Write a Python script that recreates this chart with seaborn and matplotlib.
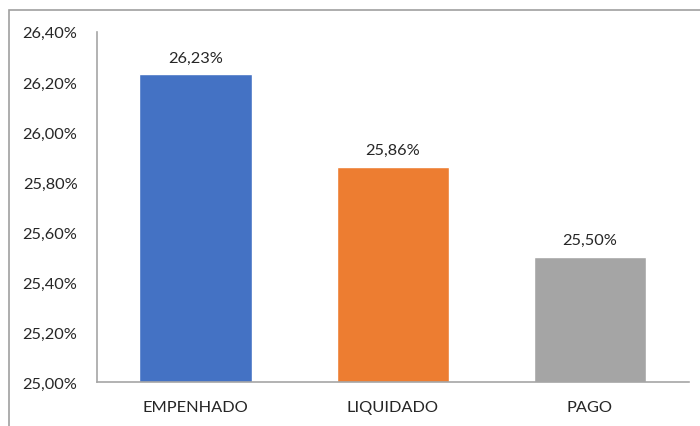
import matplotlib
matplotlib.use('Agg')
import matplotlib.pyplot as plt
from matplotlib.patches import Rectangle
import seaborn as sns
import pandas as pd

categories = ['EMPENHADO', 'LIQUIDADO', 'PAGO']
values = [26.23, 25.86, 25.50]
colors = ['#4472C4', '#ED7D31', '#A5A5A5']
y_ticks = [25.00, 25.20, 25.40, 25.60, 25.80, 26.00, 26.20, 26.40]

sns.set_theme(style="white")
plt.rcParams['font.family'] = ['Lato', 'DejaVu Sans']

df = pd.DataFrame({'categoria': categories, 'valor': values})

fig = plt.figure(figsize=(7, 4.27), dpi=100)
ax = fig.add_axes([0.1386, 0.103, 0.845, 0.820])

sns.barplot(data=df, x='categoria', y='valor', hue='categoria',
            palette=colors, width=0.57, saturation=1, legend=False, ax=ax)

ax.set_ylim(25.0, 26.4)
ax.set_yticks(y_ticks)
ax.set_yticklabels([f"{t:.2f}%".replace('.', ',') for t in y_ticks])
ax.set_xlim(-0.5, 2.5)
ax.set_xlabel('')
ax.set_ylabel('')
ax.tick_params(axis='both', length=0, labelsize=11.8, colors='#262626')
ax.tick_params(axis='y', pad=14)
ax.tick_params(axis='x', pad=13)

for side in ['top', 'right']:
    ax.spines[side].set_visible(False)
for side in ['left', 'bottom']:
    ax.spines[side].set_color('#A6A6A6')
    ax.spines[side].set_linewidth(1.2)

for bar, v in zip(ax.patches, values):
    ax.annotate(f"{v:.2f}%".replace('.', ','),
                (bar.get_x() + bar.get_width() / 2, bar.get_height()),
                xytext=(0, 7), textcoords='offset points',
                ha='center', va='bottom', fontsize=11.8, color='#262626')

# outer chart border (partly cropped in the reference)
fig.patches.append(Rectangle((9 / 700, -0.1), 1.2, 1.1 - 11 / 427,
                             transform=fig.transFigure, fill=False,
                             edgecolor='#A0A0A0', linewidth=1.2))

fig.savefig('out.png', dpi=100)
